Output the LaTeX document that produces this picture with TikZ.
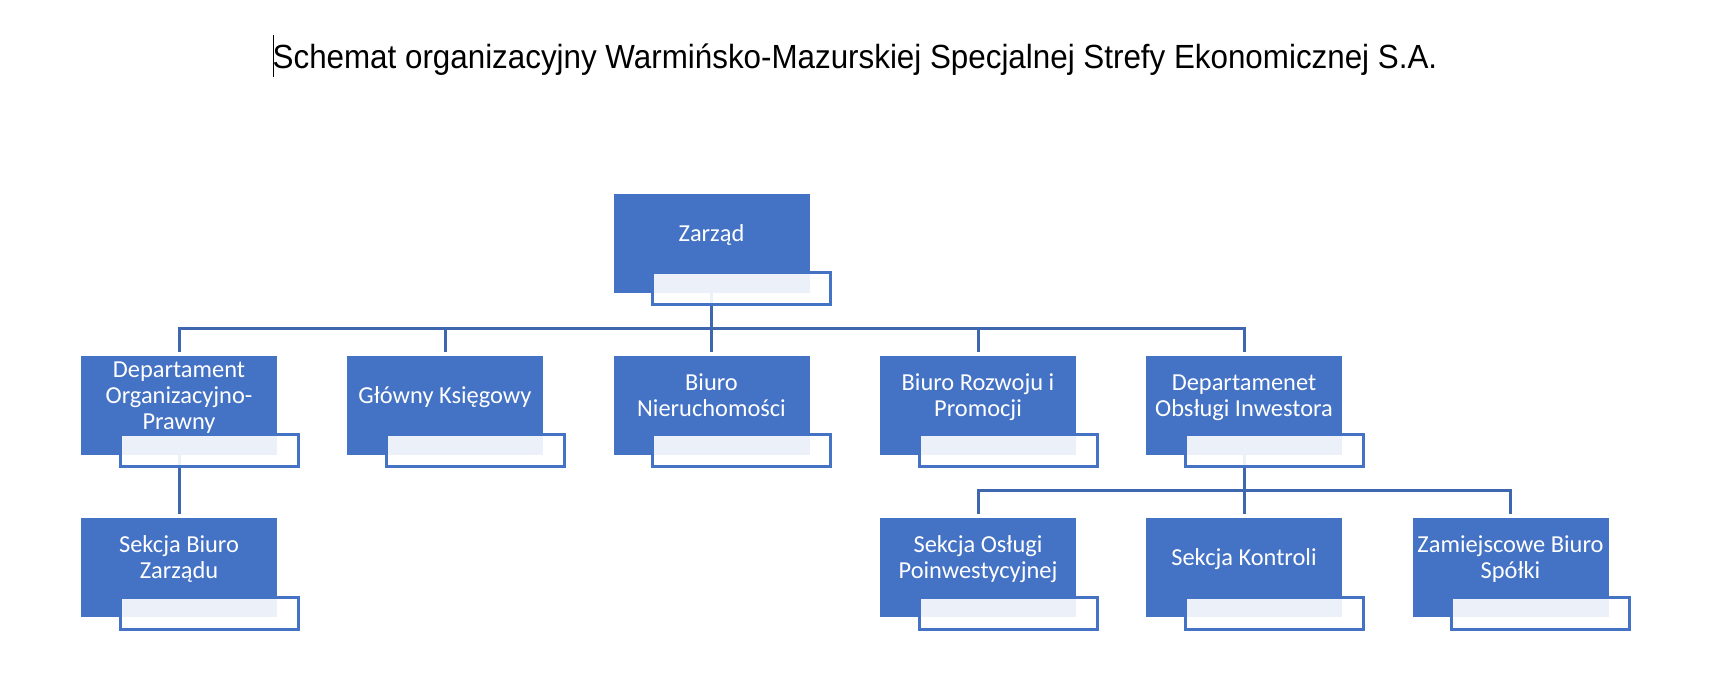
\documentclass[tikz,border=0pt]{standalone}
\usepackage{fontspec}
\setmainfont{Carlito}
\newfontfamily\titlefont[FakeStretch=0.936]{Liberation Sans}
\definecolor{boxblue}{HTML}{4472C4}
\definecolor{linkblue}{HTML}{3F67B0}
\newcommand\tline[1]{\smash{#1}\rule[-6pt]{0pt}{12pt}}
\tikzset{
  bluebox/.style={rectangle, fill=boxblue, draw=none, inner sep=0pt,
    minimum width=98pt, minimum height=49.5pt},
  boxtext/.style={text=white, align=center, inner sep=0pt,
    font=\fontsize{12.2}{13}\selectfont},
  subbox/.style={rectangle, fill=white, fill opacity=0.9, draw=boxblue,
    draw opacity=1, line width=1.5pt, inner sep=0pt,
    minimum width=89pt, minimum height=16pt},
  link/.style={draw=linkblue, line width=1.5pt},
}
\begin{document}
\begin{tikzpicture}[x=0.5pt,y=-0.5pt]
\useasboundingbox (0,0) rectangle (1728,694);
% title
\node[font=\titlefont\fontsize{16.75}{20}\selectfont, anchor=base, inner sep=0pt] (title) at (855,69)
  {Schemat organizacyjny Warmińsko-Mazurskiej Specjalnej Strefy Ekonomicznej S.A.};
\coordinate (curtop) at (273,35);
\coordinate (curbot) at (273,77);
\draw[line width=0.5pt] (curtop) -- (curbot);
% boxes
\node[bluebox] (zar) at (711.5,243.5) {};
\node[bluebox] (dop) at (179,405.5) {};
\node[bluebox] (gk)  at (445,405.5) {};
\node[bluebox] (bn)  at (711.5,405.5) {};
\node[bluebox] (brp) at (978,405.5) {};
\node[bluebox] (doi) at (1244,405.5) {};
\node[bluebox] (sbz) at (179,567.5) {};
\node[bluebox] (sop) at (978,567.5) {};
\node[bluebox] (sk)  at (1244,567.5) {};
\node[bluebox] (zbs) at (1510.5,567.5) {};
% texts
\node[boxtext] (zart) at ([yshift=1pt]zar.center) {\tline{Zarząd}};
\node[boxtext] (dopt) at ([yshift=1pt]dop.center) {\tline{Departament}\\\tline{Organizacyjno-}\\\tline{Prawny}};
\node[boxtext] (gkt)  at ([yshift=1pt]gk.center)  {\tline{Główny Księgowy}};
\node[boxtext] (bnt)  at ([yshift=1pt]bn.center)  {\tline{Biuro}\\\tline{Nieruchomości}};
\node[boxtext] (brpt) at ([yshift=1pt]brp.center) {\tline{Biuro Rozwoju i}\\\tline{Promocji}};
\node[boxtext] (doit) at ([yshift=1pt]doi.center) {\tline{Departamenet}\\\tline{Obsługi Inwestora}};
\node[boxtext] (sbzt) at ([yshift=1pt]sbz.center) {\tline{Sekcja Biuro}\\\tline{Zarządu}};
\node[boxtext] (sopt) at ([yshift=1pt]sop.center) {\tline{Sekcja Osługi}\\\tline{Poinwestycyjnej}};
\node[boxtext] (skt)  at ([yshift=1pt]sk.center)  {\tline{Sekcja Kontroli}};
\node[boxtext] (zbst) at ([yshift=1pt]zbs.center) {\tline{Zamiejscowe Biuro}\\\tline{Spółki}};
% connectors
\coordinate (bus1) at (0,329);
\coordinate (bus2) at (0,491);
\foreach \c in {dop,gk,bn,brp,doi}{
  \draw[link] (zar.south) |- (\c.north |- bus1) -- ([yshift=2pt]\c.north);
}
\draw[link] (dop.south) -- ([yshift=2pt]sbz.north);
\foreach \c in {sop,sk,zbs}{
  \draw[link] (doi.south) |- (\c.north |- bus2) -- ([yshift=2pt]\c.north);
}
% sub boxes
\foreach \b in {zar,dop,gk,bn,brp,doi,sbz,sop,sk,zbs}{
  \node[subbox] (\b sub) at ([xshift=15pt,yshift=-22.75pt]\b.center) {};
}
\end{tikzpicture}
\end{document}
